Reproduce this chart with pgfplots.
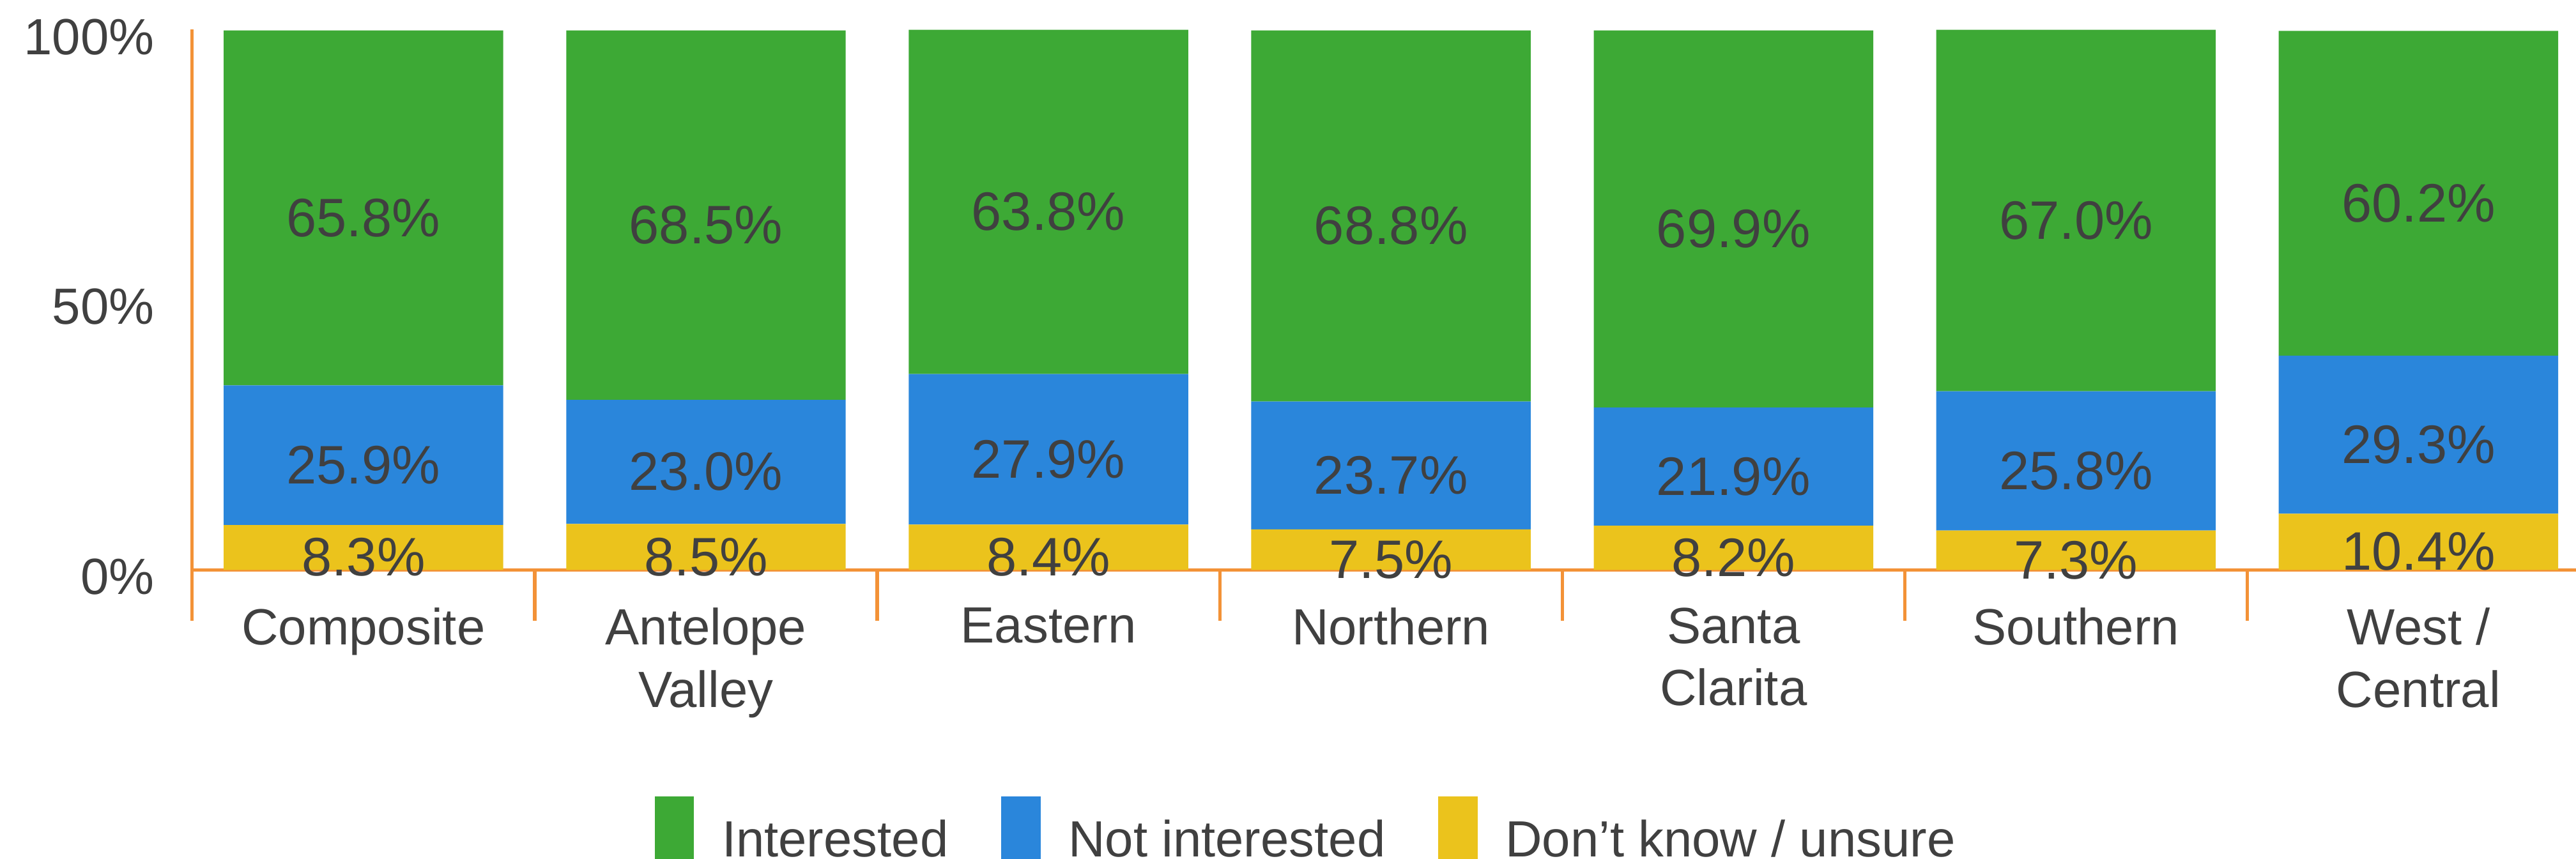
\documentclass[border=0pt]{standalone}
\usepackage{pgfplots}
\usepackage{pgfplotstable}
\pgfplotsset{compat=1.18}
\usepackage{fontspec}
\setmainfont{Liberation Sans}

\definecolor{cgreen}{HTML}{3DA935}
\definecolor{cblue}{HTML}{2A86DB}
\definecolor{cyellow}{HTML}{EBC31C}
\definecolor{corange}{HTML}{F39237}
\definecolor{ctext}{HTML}{404040}

% region, don't know, not interested, interested (%)
\pgfplotstableread{
x dk ni yes
0 8.3 25.9 65.8
1 8.5 23.0 68.5
2 8.4 27.9 63.8
3 7.5 23.7 68.8
4 8.2 21.9 69.9
5 7.3 25.8 67.0
6 10.4 29.3 60.2
}\regions

% labels sit mid-segment, a little low like the original
\pgfplotsset{
  seglabels/.style={
    visualization depends on={\thisrow{#1} \as \segval},
    nodes near coords={\pgfmathprintnumber[fixed,fixed zerofill,precision=1]{\segval}\%},
    every node near coord/.append style={anchor=center, yshift=-3pt,
      font=\fontsize{16.5}{19}\selectfont, text=ctext},
  },
}

\begin{document}
\begin{tikzpicture}
\begin{axis}[
  scale only axis,
  width=725.5pt, height=164.5pt,
  ybar stacked,
  bar width=0.816,
  xmin=-0.5, xmax=6.46,
  ymin=0, ymax=100.15,
  axis x line*=bottom, axis y line*=left,
  x axis line style={-, draw=corange, line width=1pt},
  y axis line style={-, draw=corange, line width=1pt},
  xtick={0,...,6},
  xticklabels={Composite, Antelope\\Valley, Eastern, Northern, Santa\\Clarita, Southern, West /\\Central},
  ytick={0,50,100},
  yticklabels={0\%,50\%,100\%},
  major tick length=0pt,
  tick align=outside,
  extra x ticks={-0.5,0.5,...,5.5},
  extra x tick labels={},
  extra x tick style={major tick length=15.5pt, tick style={draw=corange, line width=1pt}},
  xticklabel style={align=center, text=ctext, font=\fontsize{15.5}{19}\selectfont, yshift=-8pt},
  yticklabel style={text=ctext, font=\fontsize{15.5}{19}\selectfont, xshift=-8pt, yshift=-2pt},
  /pgf/number format/assume math mode=true,
  reverse legend,
  legend columns=3,
  legend style={draw=none, at={(axis description cs:0.1937,-0.418)}, anchor=north west,
    font=\fontsize{15.5}{19}\selectfont, text=ctext, inner sep=0pt,
    /tikz/every odd column/.append style={column sep=6.5pt},
    /tikz/every even column/.append style={column sep=14pt}},
  legend image code/.code={\path[#1, draw=none] (0pt,-12pt) rectangle (12pt,13.5pt);},
]
\addplot[fill=cyellow, draw=none, seglabels=dk] table[x=x, y=dk] {\regions};
\addplot[fill=cblue, draw=none, seglabels=ni] table[x=x, y=ni] {\regions};
\addplot[fill=cgreen, draw=none, seglabels=yes] table[x=x, y=yes] {\regions};
\legend{Don’t know / unsure, Not interested, Interested}
\coordinate (sw) at (rel axis cs:0,0);
\coordinate (ne) at (rel axis cs:1,1);
\end{axis}
\pgfresetboundingbox
\path[use as bounding box] ([shift={(-58.5pt,-88pt)}]sw) rectangle ([yshift=9pt]ne);
\end{tikzpicture}
\end{document}
